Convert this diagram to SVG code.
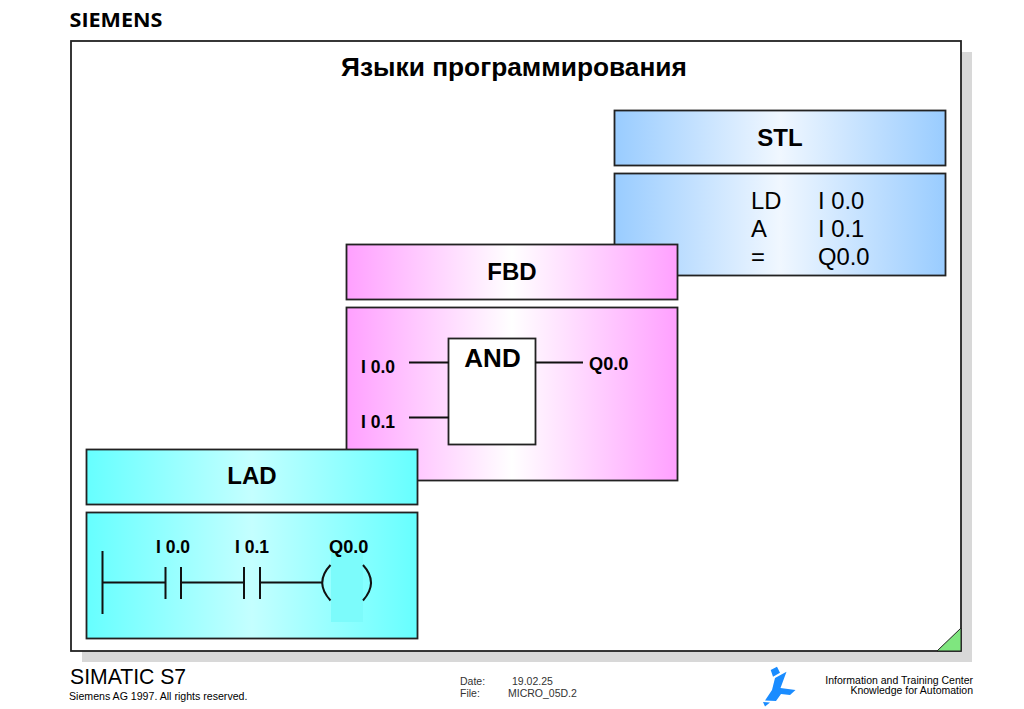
<svg xmlns="http://www.w3.org/2000/svg" width="1024" height="709" viewBox="0 0 1024 709">
<style>
text{font-family:"Liberation Sans",Arial,sans-serif;fill:#000}
.h{font-size:24px;font-weight:bold;text-anchor:middle}
.b{font-size:17.500px;font-weight:bold}
.q{font-size:18.200px;font-weight:bold}
.s{font-size:23.800px}
.box{stroke:#222;stroke-width:1.800}
.w{stroke:#111;stroke-width:2;fill:none}
.f{font-size:10.500px;fill:#333}
</style>
<defs>
<linearGradient id="gb"><stop offset="0" stop-color="#99ccff"/><stop offset=".5" stop-color="#f0f7ff"/><stop offset="1" stop-color="#99ccff"/></linearGradient>
<linearGradient id="gp"><stop offset="0" stop-color="#ffa0ff"/><stop offset=".5" stop-color="#ffffff"/><stop offset="1" stop-color="#ffa0ff"/></linearGradient>
<linearGradient id="gc"><stop offset="0" stop-color="#66ffff"/><stop offset=".5" stop-color="#c4ffff"/><stop offset="1" stop-color="#66ffff"/></linearGradient>
</defs>
<rect width="1024" height="709" fill="#fff"/>
<text x="69.500" y="27" font-size="20" font-weight="bold" style="font-family:'Open Sans','Liberation Sans',sans-serif" textLength="93" lengthAdjust="spacingAndGlyphs">SIEMENS</text>
<g id="frame">
<rect x="82" y="52" width="890" height="610" fill="#d8d8d8"/>
<rect x="71" y="41" width="890" height="610" fill="#fff" stroke="#222" stroke-width="1.800"/>
<path d="M937 651 L961 628 V651 Z" fill="#7fe67f" stroke="#222" stroke-width="1"/>
<text x="514" y="76" font-size="26.300" font-weight="bold" text-anchor="middle">Языки программирования</text>
</g>
<g id="stl">
<rect class="box" x="614.500" y="110.500" width="331" height="55" fill="url(#gb)"/>
<text class="h" x="780" y="146">STL</text>
<rect class="box" x="614.500" y="173.500" width="331" height="102" fill="url(#gb)"/>
<text class="s" x="751" y="208.500">LD</text><text class="s" x="818" y="208.500">I 0.0</text>
<text class="s" x="751" y="237">A</text><text class="s" x="818" y="237">I 0.1</text>
<text class="s" x="751" y="265">=</text><text class="s" x="818" y="265">Q0.0</text>
</g>
<g id="fbd">
<rect class="box" x="346.500" y="244.500" width="331" height="55" fill="url(#gp)"/>
<text class="h" x="512" y="280">FBD</text>
<rect class="box" x="346.500" y="307.500" width="331" height="173" fill="url(#gp)"/>
<rect x="448.500" y="338.500" width="87" height="106" fill="#fff" stroke="#222" stroke-width="1.800"/>
<text x="492.500" y="367" font-size="26" font-weight="bold" text-anchor="middle">AND</text>
<text class="b" x="361" y="372.500">I 0.0</text>
<text class="b" x="361" y="427.500">I 0.1</text>
<text class="q" x="589" y="369.500">Q0.0</text>
</g>
<g id="lad">
<rect class="box" x="86.500" y="449.500" width="331" height="55" fill="url(#gc)"/>
<text class="h" x="252" y="484">LAD</text>
<rect class="box" x="86.500" y="512.500" width="331" height="126" fill="url(#gc)"/>
<rect x="331" y="553" width="32" height="69" fill="#7cfbfb"/>
<text class="b" x="156" y="553">I 0.0</text>
<text class="b" x="235" y="553">I 0.1</text>
<text class="q" x="329" y="553">Q0.0</text>
</g>
<g id="connectors">
<path class="w" d="M102.500 551V614M102.500 582.500H165M165.500 567V599M181 567V599M181 582.500H244M244 567V599M260 567V599M260 582.500H323"/>
<path class="w" d="M330.500 565Q314 582.500 330.500 600.500M363 565Q379 582.500 363 600.500"/>
<path class="w" d="M409 362.500H449M409 417.500H449M535 362.500H583"/>
</g>
<g id="footer">
<text x="70" y="684" font-size="21.200" fill="#222">SIMATIC S7</text>
<text x="69" y="700" font-size="10.600" fill="#222">Siemens AG 1997. All rights reserved.</text>
<text class="f" x="460" y="685">Date:</text><text class="f" x="512" y="685">19.02.25</text>
<text class="f" x="460" y="697">File:</text><text class="f" x="508" y="697">MICRO_05D.2</text>
<path d="M770.700 670L777 666.700L780 672.700L773 676.700Z M775 678L786.500 671.700L780.500 688L795.500 690L790 695L781 694L776 701L765 700.500L772 690Z M763 702L770 702.500L765 706.500Z" fill="#1a8cff"/>
<text x="973" y="683.500" font-size="10.500" fill="#444" text-anchor="end">Information and Training Center</text>
<text x="973" y="694" font-size="10.500" fill="#444" text-anchor="end">Knowledge for Automation</text>
</g>
</svg>
